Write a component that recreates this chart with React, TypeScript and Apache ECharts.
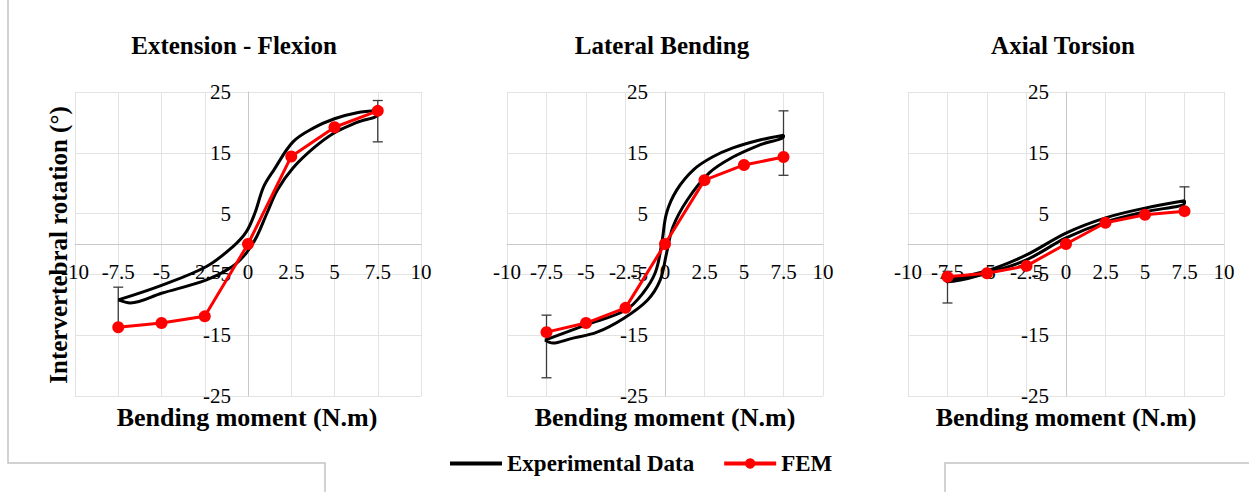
import { useEffect, useRef } from "react";
import * as echarts from "echarts";

// ---- data ----
const panelTitles = ["Extension - Flexion", "Lateral Bending", "Axial Torsion"];
const xAxisTitle = "Bending moment (N.m)";
const yAxisTitle = "Intervertebral rotation (°)";
const seriesNames = ["Experimental Data", "FEM"];

const femX = [-7.5, -5, -2.5, 0, 2.5, 5, 7.5];
const femFlexion = [-13.7, -13.0, -11.9, 0, 14.4, 19.2, 21.9];
const femLateral = [-14.5, -13.0, -10.5, 0, 10.5, 13.0, 14.3];
const femTorsion = [-5.4, -4.8, -3.6, 0, 3.5, 4.8, 5.4];

// experimental hysteresis loops: [moment, rotation]
const expFlexion = [
  [-7.5, -9.2], [-5, -6.8], [-2.4, -3.7], [-0.9, -0.5], [-0.1, 2.0], [0.4, 5.1],
  [0.9, 9.4], [1.5, 12.2], [2.6, 16.8], [3.8, 19.1], [5, 20.6], [6.3, 21.6], [7.5, 21.9],
  [7.5, 21.3], [6.3, 20.0], [5, 18.3], [3.8, 15.8], [2.6, 12.5], [1.7, 8.9], [1.1, 5.1],
  [0.5, 1.2], [-0.1, -1.5], [-0.9, -3.7], [-2.4, -5.9], [-5, -8.1], [-6.8, -9.7], [-7.5, -9.2],
];
const expLateral = [
  [-7.6, -15.8], [-5, -13.3], [-2.5, -10.9], [-1.4, -8.1], [-0.6, -4.6], [-0.2, 0.2],
  [0.1, 5.1], [0.75, 8.9], [1.8, 12.2], [3, 14.3], [4.3, 15.8], [6, 17.1], [7.5, 17.9],
  [7.5, 17.7], [6, 16.3], [4.3, 14.3], [2.8, 11.7], [1.4, 7.2], [0.5, 2.8], [0.1, -1.5],
  [-0.3, -5.9], [-1.1, -9.2], [-2.6, -12.2], [-4.3, -14.5], [-6, -15.6], [-7.1, -16.3], [-7.6, -15.8],
];
const expTorsion = [
  [-7.6, -5.9], [-5, -4.4], [-2.5, -1.8], [0, 1.8], [2.5, 4.3], [5, 5.9], [7.5, 7.1],
  [7.5, 6.7], [5, 5.3], [2.5, 3.6], [0, 1.0], [-2.5, -2.6], [-5, -4.8], [-7.5, -6.2], [-7.6, -5.9],
];

// error bars: [moment, low, high]
const errFlexion = [[-7.5, -14.0, -7.1], [7.5, 16.8, 23.6]];
const errLateral = [[-7.5, -22.0, -11.7], [7.5, 11.3, 21.9]];
const errTorsion = [[-7.5, -9.7, -4.5], [7.5, 5.0, 9.4]];

const xTickMin = -10;
const xTickMax = 10;
const xTickStep = 2.5;
const yTickMin = -25;
const yTickMax = 25;
const yTickStep = 10;

// ---- layout / style ----
const FONT = "'Liberation Serif', 'Times New Roman', serif";
const grids = [
  { left: 75, width: 346, titleX: 234, nameX: 247 },
  { left: 507, width: 316, titleX: 662, nameX: 665 },
  { left: 908, width: 316, titleX: 1063, nameX: 1066 },
];
const GRID_TOP = 92;
const GRID_HEIGHT = 304;

const panels = [
  { fem: femFlexion, exp: expFlexion, err: errFlexion },
  { fem: femLateral, exp: expLateral, err: errLateral },
  { fem: femTorsion, exp: expTorsion, err: errTorsion },
];

const errorRender = (params: any, api: any) => {
  const x = api.value(0);
  const lo = api.coord([x, api.value(1)]);
  const hi = api.coord([x, api.value(2)]);
  const w = 5;
  const style = { stroke: "#3a3a3a", lineWidth: 1.3 };
  return {
    type: "group",
    children: [
      { type: "line", shape: { x1: lo[0], y1: lo[1], x2: hi[0], y2: hi[1] }, style },
      { type: "line", shape: { x1: lo[0] - w, y1: lo[1], x2: lo[0] + w, y2: lo[1] }, style },
      { type: "line", shape: { x1: hi[0] - w, y1: hi[1], x2: hi[0] + w, y2: hi[1] }, style },
    ],
  };
};

const centeredText = (text: string, x: number, y: number, font: string, rotation = 0) => ({
  type: "text",
  x,
  y,
  rotation,
  style: {
    text,
    font,
    fill: "#000",
    align: "center",
    verticalAlign: "middle",
    textAlign: "center",
    textVerticalAlign: "middle",
  },
});

export default function App() {
  const ref = useRef<HTMLDivElement>(null);

  useEffect(() => {
    if (!ref.current) return;
    const chart = echarts.init(ref.current, null, { renderer: "svg" });

    const series: any[] = [];
    panels.forEach((p, i) => {
      series.push({
        type: "custom",
        name: "err" + i,
        xAxisIndex: i,
        yAxisIndex: i,
        renderItem: errorRender,
        encode: { x: 0, y: [1, 2] },
        data: p.err,
        z: 1,
      });
      series.push({
        type: "line",
        name: seriesNames[0],
        xAxisIndex: i,
        yAxisIndex: i,
        data: p.exp,
        smooth: 0.35,
        showSymbol: false,
        symbol: "none",
        lineStyle: { color: "#000", width: 3 },
        itemStyle: { color: "#000" },
        z: 2,
      });
      series.push({
        type: "line",
        name: seriesNames[1],
        xAxisIndex: i,
        yAxisIndex: i,
        data: femX.map((x, k) => [x, p.fem[k]]),
        symbol: "circle",
        symbolSize: 12,
        lineStyle: { color: "#ff0000", width: 3 },
        itemStyle: { color: "#ff0000" },
        z: 3,
      });
    });

    const graphic: any[] = [];
    grids.forEach((g, i) => {
      graphic.push(centeredText(panelTitles[i], g.titleX, 45, `bold 25px ${FONT}`));
      graphic.push(centeredText(xAxisTitle, g.nameX, 417, `bold 26px ${FONT}`));
    });
    graphic.push(centeredText(yAxisTitle, 58, 245, `bold 25px ${FONT}`, Math.PI / 2));
    graphic.push({
      type: "polyline",
      shape: { points: [[8, 0], [8, 463], [325, 463], [325, 492]] },
      style: { stroke: "#c4c4c4", lineWidth: 1.5, fill: null },
    });
    graphic.push({
      type: "polyline",
      shape: { points: [[945, 492], [945, 463], [1249, 463]] },
      style: { stroke: "#c4c4c4", lineWidth: 1.5, fill: null },
    });

    chart.setOption({
      animation: false,
      backgroundColor: "#fff",
      grid: grids.map((g) => ({
        left: g.left,
        width: g.width,
        top: GRID_TOP,
        height: GRID_HEIGHT,
        containLabel: false,
      })),
      xAxis: grids.map((_, i) => ({
        gridIndex: i,
        type: "value",
        position: "bottom",
        offset: -GRID_HEIGHT / 2,
        min: xTickMin,
        max: xTickMax,
        interval: xTickStep,
        axisLine: { show: true, onZero: false, lineStyle: { color: "#c8c8c8", width: 1 } },
        axisTick: { show: false },
        axisLabel: { color: "#000", fontFamily: FONT, fontSize: 21, margin: 17 },
        splitLine: { show: true, lineStyle: { color: "#e3e3e3", width: 1 } },
      })),
      yAxis: grids.map((g, i) => ({
        gridIndex: i,
        type: "value",
        position: "left",
        offset: -g.width / 2,
        min: yTickMin,
        max: yTickMax,
        interval: yTickStep,
        axisLine: { show: true, onZero: false, lineStyle: { color: "#c8c8c8", width: 1 } },
        axisTick: { show: false },
        axisLabel: { color: "#000", fontFamily: FONT, fontSize: 21, margin: 17 },
        splitLine: { show: true, lineStyle: { color: "#e3e3e3", width: 1 } },
      })),
      legend: {
        data: [
          { name: seriesNames[0], itemStyle: { opacity: 0 }, lineStyle: { width: 4 } },
          { name: seriesNames[1], lineStyle: { width: 4 } },
        ],
        left: 443,
        top: 447,
        itemWidth: 52,
        itemHeight: 13,
        itemGap: 28,
        textStyle: { color: "#000", fontFamily: FONT, fontSize: 23, fontWeight: "bold" },
      },
      graphic,
      series,
    });

    return () => chart.dispose();
  }, []);

  return (
    <div
      ref={ref}
      style={{ position: "fixed", left: 0, top: 0, width: 1249, height: 492, background: "#fff" }}
    />
  );
}
